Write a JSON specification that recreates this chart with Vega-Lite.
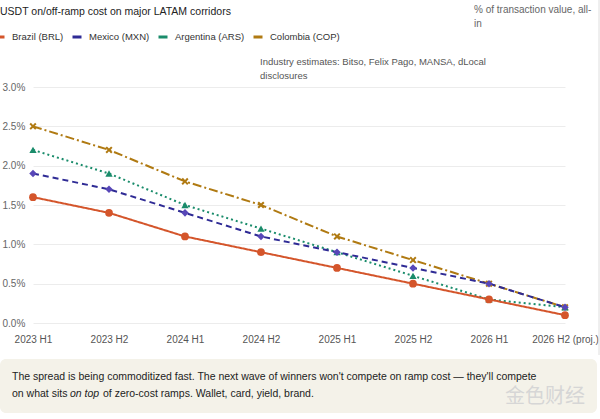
{
  "$schema": "https://vega.github.io/schema/vega-lite/v6.json",
  "background": "white",
  "autosize": {"type": "none"},
  "padding": {"left": 27, "top": 87, "right": 34, "bottom": 96},
  "width": 539,
  "height": 236,
  "config": {
    "view": {"stroke": null},
    "font": "Liberation Sans"
  },
  "datasets": {
    "cost": [
      {"corridor": "Colombia (COP)", "period": "2023 H1", "cost": 2.5},
      {"corridor": "Colombia (COP)", "period": "2023 H2", "cost": 2.2},
      {"corridor": "Colombia (COP)", "period": "2024 H1", "cost": 1.8},
      {"corridor": "Colombia (COP)", "period": "2024 H2", "cost": 1.5},
      {"corridor": "Colombia (COP)", "period": "2025 H1", "cost": 1.1},
      {"corridor": "Colombia (COP)", "period": "2025 H2", "cost": 0.8},
      {"corridor": "Colombia (COP)", "period": "2026 H1", "cost": 0.5},
      {"corridor": "Colombia (COP)", "period": "2026 H2 (proj.)", "cost": 0.2},
      {"corridor": "Argentina (ARS)", "period": "2023 H1", "cost": 2.2},
      {"corridor": "Argentina (ARS)", "period": "2023 H2", "cost": 1.9},
      {"corridor": "Argentina (ARS)", "period": "2024 H1", "cost": 1.5},
      {"corridor": "Argentina (ARS)", "period": "2024 H2", "cost": 1.2},
      {"corridor": "Argentina (ARS)", "period": "2025 H1", "cost": 0.9},
      {"corridor": "Argentina (ARS)", "period": "2025 H2", "cost": 0.6},
      {"corridor": "Argentina (ARS)", "period": "2026 H1", "cost": 0.3},
      {"corridor": "Argentina (ARS)", "period": "2026 H2 (proj.)", "cost": 0.2},
      {"corridor": "Mexico (MXN)", "period": "2023 H1", "cost": 1.9},
      {"corridor": "Mexico (MXN)", "period": "2023 H2", "cost": 1.7},
      {"corridor": "Mexico (MXN)", "period": "2024 H1", "cost": 1.4},
      {"corridor": "Mexico (MXN)", "period": "2024 H2", "cost": 1.1},
      {"corridor": "Mexico (MXN)", "period": "2025 H1", "cost": 0.9},
      {"corridor": "Mexico (MXN)", "period": "2025 H2", "cost": 0.7},
      {"corridor": "Mexico (MXN)", "period": "2026 H1", "cost": 0.5},
      {"corridor": "Mexico (MXN)", "period": "2026 H2 (proj.)", "cost": 0.2},
      {"corridor": "Brazil (BRL)", "period": "2023 H1", "cost": 1.6},
      {"corridor": "Brazil (BRL)", "period": "2023 H2", "cost": 1.4},
      {"corridor": "Brazil (BRL)", "period": "2024 H1", "cost": 1.1},
      {"corridor": "Brazil (BRL)", "period": "2024 H2", "cost": 0.9},
      {"corridor": "Brazil (BRL)", "period": "2025 H1", "cost": 0.7},
      {"corridor": "Brazil (BRL)", "period": "2025 H2", "cost": 0.5},
      {"corridor": "Brazil (BRL)", "period": "2026 H1", "cost": 0.3},
      {"corridor": "Brazil (BRL)", "period": "2026 H2 (proj.)", "cost": 0.1}
    ]
  },
  "encoding": {
    "x": {
      "field": "period",
      "type": "ordinal",
      "scale": {
        "type": "point",
        "padding": 0,
        "domain": ["2023 H1", "2023 H2", "2024 H1", "2024 H2", "2025 H1", "2025 H2", "2026 H1", "2026 H2 (proj.)"],
        "range": [6, 538]
      },
      "axis": {
        "title": null,
        "labelAngle": 0,
        "domain": false,
        "ticks": false,
        "grid": false,
        "labelPadding": 11,
        "labelFontSize": 10,
        "labelColor": "#555"
      }
    },
    "y": {
      "field": "cost",
      "type": "quantitative",
      "scale": {"domain": [0, 3], "nice": false, "zero": true},
      "axis": {
        "title": null,
        "values": [0, 0.5, 1, 1.5, 2, 2.5, 3],
        "labelExpr": "format(datum.value, '.1f') + '%'",
        "labelAlign": "left",
        "labelBaseline": "middle",
        "labelPadding": 25,
        "domain": false,
        "ticks": false,
        "gridColor": "#ececec",
        "gridWidth": 1,
        "labelFontSize": 10,
        "labelColor": "#666"
      }
    }
  },
  "layer": [
    {
      "mark": {"type": "rect", "fill": "#f4f2e9", "cornerRadius": 6},
      "data": {"values": [{}]},
      "encoding": {
        "x": {"value": -27},
        "x2": {"value": 570},
        "y": {"value": 272},
        "y2": {"value": 326}
      }
    },
    {
      "mark": {"type": "rule", "stroke": "#dedede", "strokeWidth": 1},
      "data": {"values": [{}]},
      "encoding": {
        "x": {"value": 572},
        "y": {"value": -87},
        "y2": {"value": 268}
      }
    },
    {
      "data": {"name": "cost"},
      "mark": {"type": "line", "strokeWidth": 2},
      "encoding": {
        "color": {
          "field": "corridor",
          "type": "nominal",
          "scale": {
            "domain": ["Brazil (BRL)", "Mexico (MXN)", "Argentina (ARS)", "Colombia (COP)"],
            "range": ["#d4552b", "#2f2b95", "#1a8c6b", "#b07a12"]
          },
          "legend": {
            "title": null,
            "orient": "none",
            "legendX": -33,
            "legendY": -56,
            "padding": 0,
            "direction": "horizontal",
            "symbolType": "stroke",
            "symbolStrokeWidth": 3,
            "symbolSize": 81,
            "labelFontSize": 9.5,
            "labelColor": "#333",
            "labelOffset": 6,
            "columnPadding": 2,
            "encode": {"symbols": {"update": {"shape": {"value": "stroke"}, "strokeDash": {"value": [1, 0]}}}}
          }
        },
        "strokeDash": {
          "field": "corridor",
          "type": "nominal",
          "scale": {
            "domain": ["Brazil (BRL)", "Mexico (MXN)", "Argentina (ARS)", "Colombia (COP)"],
            "range": [[1, 0], [6, 4], [2, 3], [9, 3, 2, 3]]
          },
          "legend": null
        }
      }
    },
    {
      "data": {"name": "cost"},
      "mark": {"type": "point", "filled": true, "opacity": 1},
      "encoding": {
        "fill": {
          "field": "corridor",
          "type": "nominal",
          "scale": {
            "domain": ["Brazil (BRL)", "Mexico (MXN)", "Argentina (ARS)", "Colombia (COP)"],
            "range": ["#d4552b", "#5847b8", "#1a8c6b", "#b07a12"]
          },
          "legend": null
        },
        "shape": {
          "field": "corridor",
          "type": "nominal",
          "scale": {
            "domain": ["Brazil (BRL)", "Mexico (MXN)", "Argentina (ARS)", "Colombia (COP)"],
            "range": ["circle", "diamond", "triangle-up", "M-1,-0.6L-0.6,-1L0,-0.4L0.6,-1L1,-0.6L0.4,0L1,0.6L0.6,1L0,0.4L-0.6,1L-1,0.6L-0.4,0Z"]
          },
          "legend": null
        },
        "size": {
          "field": "corridor",
          "type": "nominal",
          "scale": {
            "domain": ["Brazil (BRL)", "Mexico (MXN)", "Argentina (ARS)", "Colombia (COP)"],
            "range": [60, 50, 50, 22]
          },
          "legend": null
        }
      }
    },
    {
      "data": {"values": [{}]},
      "mark": {"type": "text", "align": "left", "baseline": "middle", "fontSize": 10.5, "color": "#222"},
      "encoding": {
        "x": {"value": -27},
        "y": {"value": -75.5},
        "text": {"value": "USDT on/off-ramp cost on major LATAM corridors"}
      }
    },
    {
      "data": {"values": [{}]},
      "mark": {"type": "text", "align": "left", "baseline": "top", "fontSize": 10, "lineHeight": 14, "color": "#666"},
      "encoding": {
        "x": {"value": 447},
        "y": {"value": -82},
        "text": {"value": ["% of transaction value, all-", "in"]}
      }
    },
    {
      "data": {"values": [{}]},
      "mark": {"type": "text", "align": "left", "baseline": "top", "fontSize": 9.5, "lineHeight": 14, "color": "#555"},
      "encoding": {
        "x": {"value": 233},
        "y": {"value": -30},
        "text": {"value": ["Industry estimates: Bitso, Felix Pago, MANSA, dLocal", "disclosures"]}
      }
    },
    {
      "data": {"values": [{}]},
      "mark": {"type": "text", "align": "left", "baseline": "middle", "fontSize": 10.5, "color": "#222"},
      "encoding": {
        "x": {"value": -15},
        "y": {"value": 290},
        "text": {"value": "The spread is being commoditized fast. The next wave of winners won't compete on ramp cost \u2014 they'll compete"}
      }
    },
    {
      "data": {"values": [{}]},
      "mark": {"type": "text", "align": "left", "baseline": "middle", "fontSize": 10.5, "color": "#222"},
      "encoding": {
        "x": {"value": -15},
        "y": {"value": 307},
        "text": {"value": "on what sits"}
      }
    },
    {
      "data": {"values": [{}]},
      "mark": {"type": "text", "align": "left", "baseline": "middle", "fontSize": 10.5, "fontStyle": "italic", "color": "#222"},
      "encoding": {
        "x": {"value": 43},
        "y": {"value": 307},
        "text": {"value": "on top"}
      }
    },
    {
      "data": {"values": [{}]},
      "mark": {"type": "text", "align": "left", "baseline": "middle", "fontSize": 10.5, "color": "#222"},
      "encoding": {
        "x": {"value": 76},
        "y": {"value": 307},
        "text": {"value": "of zero-cost ramps. Wallet, card, yield, brand."}
      }
    },
    {
      "data": {"values": [{}]},
      "mark": {"type": "text", "align": "left", "baseline": "middle", "fontSize": 20, "font": "Noto Sans CJK SC", "color": "#d6d6d6"},
      "encoding": {
        "x": {"value": 478},
        "y": {"value": 310},
        "text": {"value": "金色财经"}
      }
    }
  ],
  "resolve": {"scale": {"color": "independent"}}
}
